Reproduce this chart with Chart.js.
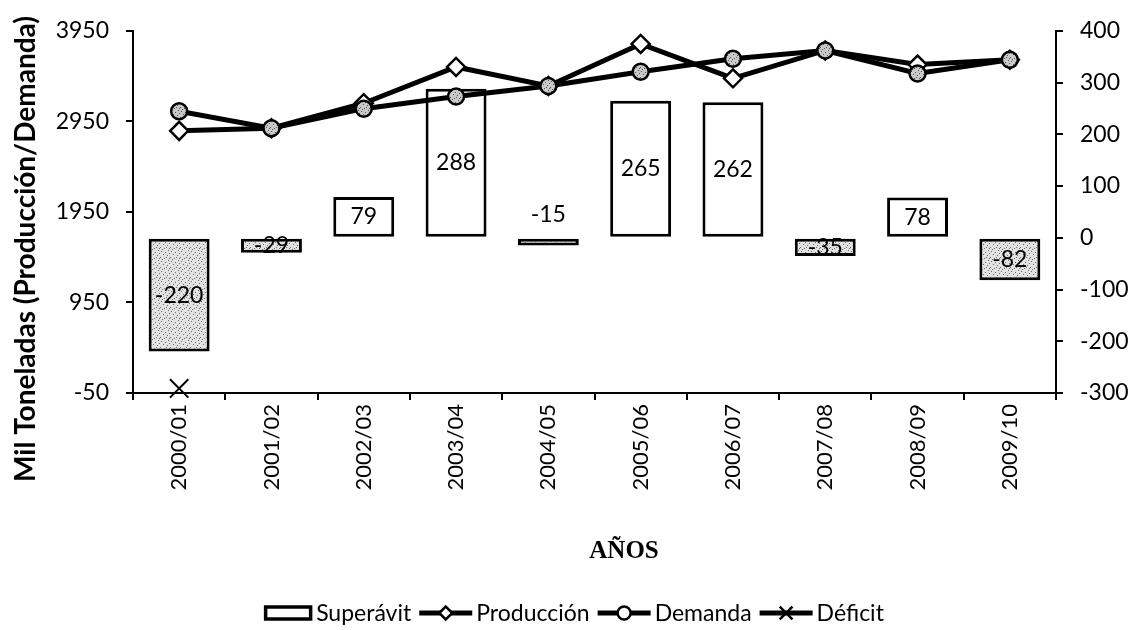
<!DOCTYPE html>
<html>
<head>
<meta charset="utf-8">
<title>Superávit / Déficit</title>
<script src="https://cdn.jsdelivr.net/npm/chart.js@4.4.0/dist/chart.umd.min.js"></script>
<style>
  html, body { margin: 0; padding: 0; background: #fff; }
</style>
</head>
<body>
<canvas id="myChart" width="1130" height="630"></canvas>
<script>
// Campañas
const anos = ['2000/01', '2001/02', '2002/03', '2003/04', '2004/05', '2005/06', '2006/07', '2007/08', '2008/09', '2009/10'];
// Eje derecho (barras)
const superavit = [-220, -29, 79, 288, -15, 265, 262, -35, 78, -82];
// Eje izquierdo (mil toneladas)
const produccion = [2845, 2874, 3150, 3551, 3341, 3805, 3425, 3733, 3577, 3631];
const demanda = [3062, 2874, 3090, 3225, 3341, 3497, 3642, 3733, 3479, 3631];
const deficit = [0, null, null, null, null, null, null, null, null, null];
// Marcas de los ejes
const ticksIzq = [-50, 950, 1950, 2950, 3950];
const ticksDer = [-300, -200, -100, 0, 100, 200, 300, 400];

const canvas = document.getElementById('myChart');
const ctx = canvas.getContext('2d');

// trama punteada para barras negativas y marcadores de demanda
function trama(fondo, punto) {
    const c = document.createElement('canvas');
    c.width = 10; c.height = 10;
    const g = c.getContext('2d');
    g.fillStyle = fondo;
    g.fillRect(0, 0, 10, 10);
    g.fillStyle = punto;
    [[1, 1], [5, 2], [8, 0], [3, 4], [7, 5], [0, 7], [4, 8], [9, 8], [2, 9], [6, 7], [9, 3]]
        .forEach(([x, y]) => g.fillRect(x, y, 1, 1));
    return ctx.createPattern(c, 'repeat');
}
const tramaBarra = trama('#e2e2e2', '#6a6a6a');
const tramaPunto = trama('#c9c9c9', '#555');

const fuente = 'Lato';
const negro = '#000';

const textos = {
    id: 'textos',
    afterDatasetsDraw(chart) {
        const g = chart.ctx;
        const meta = chart.getDatasetMeta(0);
        g.save();
        g.font = '23px ' + fuente;
        g.fillStyle = negro;
        g.textAlign = 'center';
        g.textBaseline = 'middle';
        meta.data.forEach((bar, i) => {
            const alto = Math.abs(bar.base - bar.y);
            // barras muy finas: etiqueta encima del cero
            const y = alto < 10 ? bar.base - 24 : (bar.y + bar.base) / 2;
            g.fillText(String(superavit[i]), bar.x, y);
        });
        g.restore();
    },
    afterDraw(chart) {
        const g = chart.ctx;
        g.save();
        g.fillStyle = negro;
        g.strokeStyle = negro;

        // título eje izquierdo
        g.save();
        g.translate(26, 249);
        g.rotate(-Math.PI / 2);
        g.font = 'bold 28px ' + fuente;
        g.textAlign = 'center';
        g.textBaseline = 'middle';
        g.fillText('Mil Toneladas (Producción/Demanda)', 0, 0);
        g.restore();

        // título eje x
        g.font = 'bold 25px "Liberation Serif"';
        g.textAlign = 'center';
        g.textBaseline = 'middle';
        g.fillText('AÑOS', 624, 552);

        // leyenda
        const ds = chart.data.datasets;
        g.font = '23px ' + fuente;
        g.textAlign = 'left';
        const items = ds.map(d => ({ d, icono: d.type === 'bar' ? 48 : 53, w: g.measureText(d.label).width }));
        const total = items.reduce((s, it) => s + it.icono + 4 + it.w, 0) + 8 * (items.length - 1);
        let x = 574 - total / 2;
        const y = 613;
        items.forEach(it => {
            const d = it.d;
            if (d.type === 'bar') {
                g.fillStyle = '#fff';
                g.lineWidth = 3.5;
                g.fillRect(x + 1.5, y - 6, 45, 12);
                g.strokeRect(x + 1.5, y - 6, 45, 12);
            } else {
                g.lineWidth = 5;
                g.beginPath();
                g.moveTo(x, y);
                g.lineTo(x + it.icono, y);
                g.stroke();
                g.fillStyle = '#fff';
                g.lineWidth = 2.5;
                Chart.helpers.drawPoint(g, {
                    pointStyle: d.pointStyle, rotation: 0,
                    radius: d.pointStyle === 'crossRot' ? 9 : 6.5, borderWidth: 2.5
                }, x + it.icono / 2, y);
            }
            x += it.icono + 4;
            g.fillStyle = negro;
            g.fillText(d.label, x, y + 1);
            x += it.w + 8;
        });
        g.restore();
    }
};

const marcas = { display: true, drawOnChartArea: false, color: negro, lineWidth: 2, tickLength: 7 };
const borde = { display: true, color: negro, width: 2 };
const sinComas = v => String(v);

new Chart(ctx, {
    type: 'bar',
    data: {
        labels: anos,
        datasets: [
            {
                type: 'bar',
                label: 'Superávit',
                data: superavit,
                yAxisID: 'y1',
                backgroundColor: c => (c.raw < 0 ? tramaBarra : '#fff'),
                borderColor: negro,
                borderWidth: 3,
                borderSkipped: false,
                barPercentage: 0.66,
                categoryPercentage: 1,
                order: 3
            },
            {
                type: 'line',
                label: 'Producción',
                data: produccion,
                yAxisID: 'y',
                borderColor: negro,
                borderWidth: 5,
                pointStyle: 'rectRot',
                pointRadius: 9,
                pointBackgroundColor: '#fff',
                pointBorderColor: negro,
                pointBorderWidth: 2.5,
                order: 2
            },
            {
                type: 'line',
                label: 'Demanda',
                data: demanda,
                yAxisID: 'y',
                borderColor: negro,
                borderWidth: 5,
                pointStyle: 'circle',
                pointRadius: 8,
                pointBackgroundColor: tramaPunto,
                pointBorderColor: negro,
                pointBorderWidth: 2.5,
                order: 1
            },
            {
                type: 'line',
                label: 'Déficit',
                data: deficit,
                yAxisID: 'y',
                showLine: false,
                pointStyle: 'crossRot',
                pointRadius: 13,
                pointBorderColor: negro,
                pointBorderWidth: 2,
                clip: false,
                order: 0
            }
        ]
    },
    options: {
        responsive: false,
        animation: false,
        events: [],
        layout: { padding: { top: 25, left: 0, right: 0, bottom: 0 } },
        plugins: {
            legend: { display: false },
            tooltip: { enabled: false }
        },
        scales: {
            x: {
                grid: marcas,
                border: borde,
                ticks: {
                    color: negro,
                    font: { family: fuente, size: 22 },
                    minRotation: 90,
                    maxRotation: 90,
                    padding: 4
                },
                afterFit: s => { s.height = 237; }
            },
            y: {
                position: 'left',
                min: -50,
                max: 3950,
                grid: marcas,
                border: borde,
                ticks: { color: negro, font: { family: fuente, size: 23 }, padding: 17, callback: sinComas },
                afterBuildTicks: s => { s.ticks = ticksIzq.map(v => ({ value: v })); },
                afterFit: s => { s.width = 133; }
            },
            y1: {
                position: 'right',
                min: -300,
                max: 400,
                grid: marcas,
                border: borde,
                ticks: { color: negro, font: { family: fuente, size: 23 }, padding: 17, callback: sinComas },
                afterBuildTicks: s => { s.ticks = ticksDer.map(v => ({ value: v })); },
                afterFit: s => { s.width = 74; }
            }
        }
    },
    plugins: [textos]
});
</script>
</body>
</html>
